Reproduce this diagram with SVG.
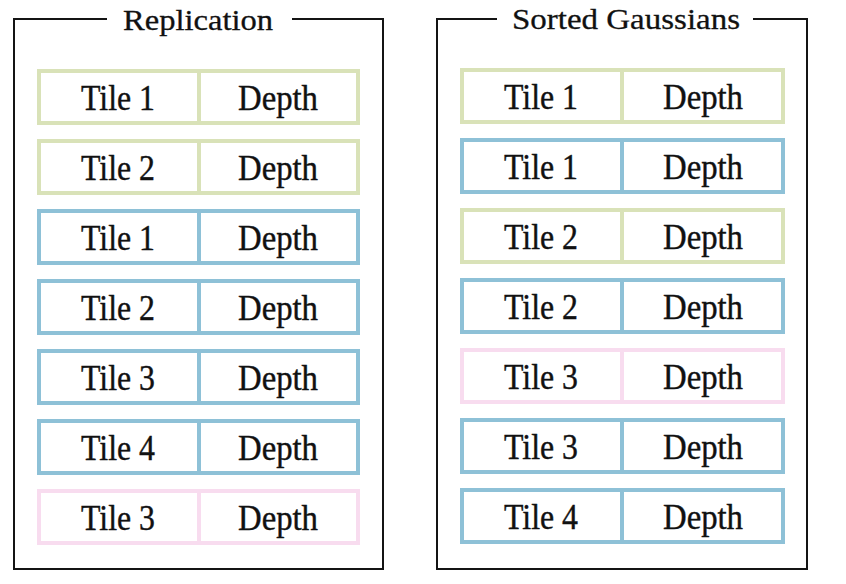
<svg xmlns="http://www.w3.org/2000/svg" width="846" height="584" viewBox="0 0 846 584">
  <style>
    .frame { fill: none; stroke: #141414; stroke-width: 2; }
    .title { font-family: "Liberation Serif", "Times New Roman", serif; font-size: 30px; fill: #111; stroke: #111; stroke-width: 0.3; text-anchor: middle; }
    .cell { fill: #ffffff; stroke-width: 4; }
    .div { stroke-width: 4; }
    .lbl { font-family: "Liberation Serif", "Times New Roman", serif; font-size: 35px; fill: #111; stroke: #111; stroke-width: 0.4; text-anchor: middle; }
    .green { stroke: #d9e2b8; }
    .blue { stroke: #8ec1d7; }
    .pink { stroke: #f8dcef; }
  </style>
  <rect width="846" height="584" fill="#ffffff"/>

  <!-- Replication panel -->
  <g id="replication">
    <path class="frame" d="M107 19 H14 V569 H383 V19 H292"/>
    <text class="title" x="198" y="30" textLength="150" lengthAdjust="spacingAndGlyphs">Replication</text>
  </g>
  <g id="rep-1" class="green"><rect class="cell" x="39" y="71" width="319" height="52"/><line class="div" x1="199" y1="71" x2="199" y2="123"/><text class="lbl" x="118" y="110" textLength="74" lengthAdjust="spacingAndGlyphs">Tile 1</text><text class="lbl" x="278" y="110" textLength="80" lengthAdjust="spacingAndGlyphs">Depth</text></g>
  <g id="rep-2" class="green"><rect class="cell" x="39" y="141" width="319" height="52"/><line class="div" x1="199" y1="141" x2="199" y2="193"/><text class="lbl" x="118" y="180" textLength="74" lengthAdjust="spacingAndGlyphs">Tile 2</text><text class="lbl" x="278" y="180" textLength="80" lengthAdjust="spacingAndGlyphs">Depth</text></g>
  <g id="rep-3" class="blue"><rect class="cell" x="39" y="211" width="319" height="52"/><line class="div" x1="199" y1="211" x2="199" y2="263"/><text class="lbl" x="118" y="250" textLength="74" lengthAdjust="spacingAndGlyphs">Tile 1</text><text class="lbl" x="278" y="250" textLength="80" lengthAdjust="spacingAndGlyphs">Depth</text></g>
  <g id="rep-4" class="blue"><rect class="cell" x="39" y="281" width="319" height="52"/><line class="div" x1="199" y1="281" x2="199" y2="333"/><text class="lbl" x="118" y="320" textLength="74" lengthAdjust="spacingAndGlyphs">Tile 2</text><text class="lbl" x="278" y="320" textLength="80" lengthAdjust="spacingAndGlyphs">Depth</text></g>
  <g id="rep-5" class="blue"><rect class="cell" x="39" y="351" width="319" height="52"/><line class="div" x1="199" y1="351" x2="199" y2="403"/><text class="lbl" x="118" y="390" textLength="74" lengthAdjust="spacingAndGlyphs">Tile 3</text><text class="lbl" x="278" y="390" textLength="80" lengthAdjust="spacingAndGlyphs">Depth</text></g>
  <g id="rep-6" class="blue"><rect class="cell" x="39" y="421" width="319" height="52"/><line class="div" x1="199" y1="421" x2="199" y2="473"/><text class="lbl" x="118" y="460" textLength="74" lengthAdjust="spacingAndGlyphs">Tile 4</text><text class="lbl" x="278" y="460" textLength="80" lengthAdjust="spacingAndGlyphs">Depth</text></g>
  <g id="rep-7" class="pink"><rect class="cell" x="39" y="491" width="319" height="52"/><line class="div" x1="199" y1="491" x2="199" y2="543"/><text class="lbl" x="118" y="530" textLength="74" lengthAdjust="spacingAndGlyphs">Tile 3</text><text class="lbl" x="278" y="530" textLength="80" lengthAdjust="spacingAndGlyphs">Depth</text></g>

  <!-- Sorted Gaussians panel -->
  <g id="sorted">
    <path class="frame" d="M497 19 H437 V569 H807 V19 H753"/>
    <text class="title" x="626" y="29" textLength="228" lengthAdjust="spacingAndGlyphs">Sorted Gaussians</text>
  </g>
  <g id="srt-1" class="green"><rect class="cell" x="462" y="70" width="321" height="52"/><line class="div" x1="622" y1="70" x2="622" y2="122"/><text class="lbl" x="541" y="109" textLength="74" lengthAdjust="spacingAndGlyphs">Tile 1</text><text class="lbl" x="703" y="109" textLength="80" lengthAdjust="spacingAndGlyphs">Depth</text></g>
  <g id="srt-2" class="blue"><rect class="cell" x="462" y="140" width="321" height="52"/><line class="div" x1="622" y1="140" x2="622" y2="192"/><text class="lbl" x="541" y="179" textLength="74" lengthAdjust="spacingAndGlyphs">Tile 1</text><text class="lbl" x="703" y="179" textLength="80" lengthAdjust="spacingAndGlyphs">Depth</text></g>
  <g id="srt-3" class="green"><rect class="cell" x="462" y="210" width="321" height="52"/><line class="div" x1="622" y1="210" x2="622" y2="262"/><text class="lbl" x="541" y="249" textLength="74" lengthAdjust="spacingAndGlyphs">Tile 2</text><text class="lbl" x="703" y="249" textLength="80" lengthAdjust="spacingAndGlyphs">Depth</text></g>
  <g id="srt-4" class="blue"><rect class="cell" x="462" y="280" width="321" height="52"/><line class="div" x1="622" y1="280" x2="622" y2="332"/><text class="lbl" x="541" y="319" textLength="74" lengthAdjust="spacingAndGlyphs">Tile 2</text><text class="lbl" x="703" y="319" textLength="80" lengthAdjust="spacingAndGlyphs">Depth</text></g>
  <g id="srt-5" class="pink"><rect class="cell" x="462" y="350" width="321" height="52"/><line class="div" x1="622" y1="350" x2="622" y2="402"/><text class="lbl" x="541" y="389" textLength="74" lengthAdjust="spacingAndGlyphs">Tile 3</text><text class="lbl" x="703" y="389" textLength="80" lengthAdjust="spacingAndGlyphs">Depth</text></g>
  <g id="srt-6" class="blue"><rect class="cell" x="462" y="420" width="321" height="52"/><line class="div" x1="622" y1="420" x2="622" y2="472"/><text class="lbl" x="541" y="459" textLength="74" lengthAdjust="spacingAndGlyphs">Tile 3</text><text class="lbl" x="703" y="459" textLength="80" lengthAdjust="spacingAndGlyphs">Depth</text></g>
  <g id="srt-7" class="blue"><rect class="cell" x="462" y="490" width="321" height="52"/><line class="div" x1="622" y1="490" x2="622" y2="542"/><text class="lbl" x="541" y="529" textLength="74" lengthAdjust="spacingAndGlyphs">Tile 4</text><text class="lbl" x="703" y="529" textLength="80" lengthAdjust="spacingAndGlyphs">Depth</text></g>
</svg>
